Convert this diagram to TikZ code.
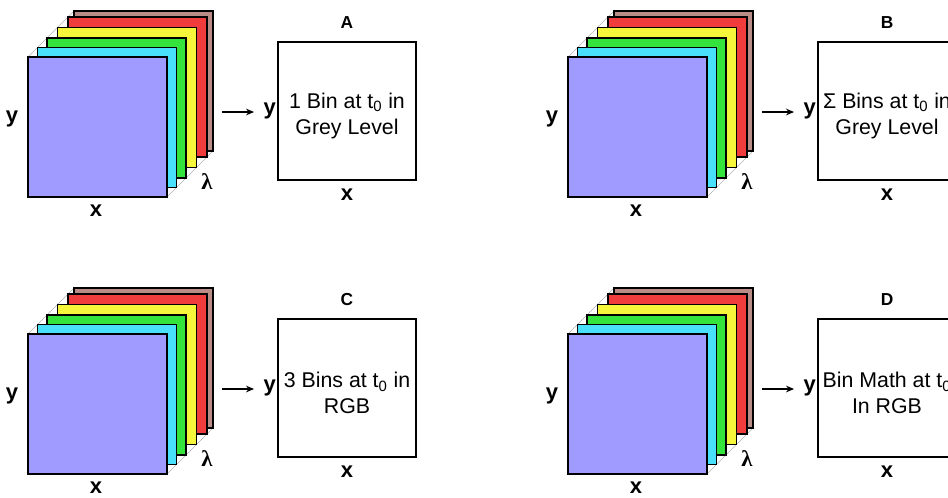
\documentclass[tikz,border=0pt]{standalone}
\usepackage{fontspec}
\setmainfont{Liberation Sans}
\newfontfamily\lamfont{Liberation Serif}
\usetikzlibrary{arrows.meta, positioning}

\definecolor{lpurple}{RGB}{160,156,255}
\definecolor{lcyan}{RGB}{72,224,250}
\definecolor{lgreen}{RGB}{52,228,60}
\definecolor{lyellow}{RGB}{245,245,60}
\definecolor{lred}{RGB}{240,60,60}
\definecolor{lbrown}{RGB}{186,140,136}

\begin{document}
\begin{tikzpicture}[
    x=0.75pt, y=-0.75pt,
    layer/.style={draw=black, line width=0.8pt},
    guide/.style={draw=gray!60, line width=0.5pt},
    plane/.style={rectangle, draw, line width=0.8pt, minimum width=103.5pt, minimum height=103.5pt, inner sep=0pt},
    axis/.style={font=\fontsize{16.5}{16.5}\selectfont\bfseries, inner sep=1pt},
    lam/.style={font=\fontsize{17}{17}\selectfont\lamfont\bfseries, inner sep=1pt},
    tag/.style={font=\fontsize{13}{13}\selectfont\bfseries},
    bintext/.style={align=center, font=\fontsize{16}{19.5}\selectfont, inner sep=0pt},
    arr/.style={-{Stealth[length=6pt, width=5pt]}, line width=0.8pt}
]

%% ── Page frame (right panels run off the edge) ──────────────────────────────
\clip (0,0) rectangle (948,497);

%% ── One panel per case: cube of bins, arrow, resulting image ────────────────
\foreach \pn/\dx/\dy/\txt in {
    A/0/0/{1 Bin at t\textsubscript{0} in\\Grey Level},
    B/540/0/{Σ Bins at t\textsubscript{0} in\\Grey Level},
    C/0/277/{3 Bins at t\textsubscript{0} in\\RGB},
    D/540/277/{Bin Math at t\textsubscript{0}\\In RGB}}{

  % cube edges behind the slices
  \draw[guide] (\dx+28,\dy+57) -- (\dx+74,\dy+11);
  \draw[guide] (\dx+167,\dy+197) -- (\dx+213,\dy+151);

  % spectral slices, back to front
  \foreach \d/\c in {46/lbrown, 40/lred, 29.5/lyellow, 19/lgreen, 9.5/lcyan, 0/lpurple}
    \filldraw[layer, fill=\c] (\dx+28+\d,\dy+57-\d) rectangle ++(139,140);

  % cube axes
  \node[axis] (\pn-cy)  at (\dx+12,\dy+119) {y};
  \node[axis] (\pn-cx)  at (\dx+96,\dy+211) {x};
  \node[lam]  (\pn-cl)  at (\dx+207,\dy+182) {λ};

  % result image
  \node[plane] (\pn-box) at (\dx+347,\dy+111) {};
  \node[bintext] (\pn-txt) at (\dx+347,\dy+116) {\txt};
  \node[tag]  (\pn-tag) at (\dx+347,\dy+23) {\pn};
  \node[axis, anchor=east] (\pn-ylab) at (\pn-box.west) {y};
  \node[axis] (\pn-xlab) at (\dx+347,\dy+195) {x};

  % cube -> image
  \coordinate (\pn-tail) at (\dx+222,\dy+112);
  \draw[arr, shorten >=6pt] (\pn-tail) -- (\pn-tail -| \pn-ylab.west);
}

\end{tikzpicture}
\end{document}
